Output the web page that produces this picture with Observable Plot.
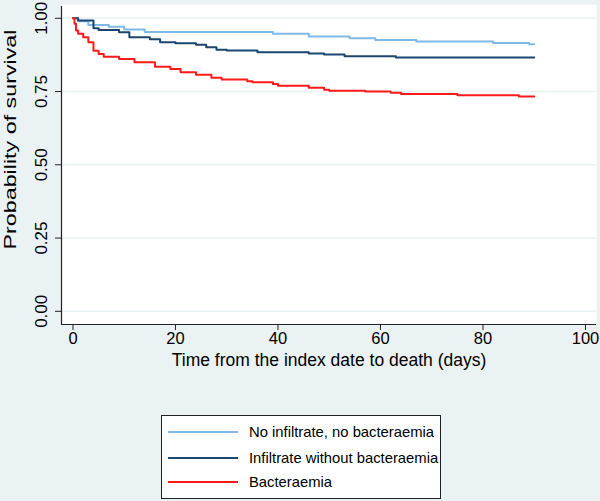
<!DOCTYPE html>
<html><head><meta charset="utf-8">
<script src="https://cdn.jsdelivr.net/npm/d3@7"></script>
<script src="https://cdn.jsdelivr.net/npm/@observablehq/plot@0.6"></script>
<style>
html,body{margin:0;padding:0;background:#eaf2f3;}
#wrap{position:relative;width:600px;height:501px;overflow:hidden;font-family:"Liberation Sans",Arial,sans-serif;}
#chart{position:absolute;left:0;top:0;}
#legend{position:absolute;left:161px;top:415px;width:280px;height:84px;background:#fff;border:1px solid #222;box-sizing:border-box;}
.row{position:absolute;left:6px;height:22px;display:flex;align-items:center;font-size:14.8px;color:#000;white-space:nowrap;}
.sw{width:70px;height:2px;margin-right:11px;}
</style></head><body><div id="wrap"><div id="chart"></div><div id="legend"></div></div>
<script>
const groups = ["No infiltrate, no bacteraemia", "Infiltrate without bacteraemia", "Bacteraemia"];
const colors = ["#7fb9e6", "#1a476f", "#ff1a1a"];

const noInfDays = [0, 1, 3, 7, 10, 14, 39, 46, 54, 59, 67, 82, 89, 90];
const noInfSurv = [1.0, 0.99, 0.977, 0.971, 0.962, 0.953, 0.947, 0.938, 0.932, 0.926, 0.921, 0.916, 0.911, 0.911];

const infDays = [0, 1, 4, 5, 9, 11, 15, 17, 20, 24, 26, 28, 30, 36, 46, 49, 53, 63, 90];
const infSurv = [1.0, 0.992, 0.966, 0.96, 0.952, 0.935, 0.928, 0.918, 0.915, 0.91, 0.901, 0.893, 0.89, 0.884, 0.88, 0.876, 0.87, 0.866, 0.866];

const bactDays = [0, 0.3, 0.6, 1, 2, 3, 4, 5, 6, 9, 12, 16, 19, 21, 24, 27, 29, 34, 35, 39, 40, 46, 49, 50, 57, 62, 64, 75, 87, 90];
const bactSurv = [1.0, 0.981, 0.958, 0.947, 0.935, 0.918, 0.889, 0.878, 0.869, 0.861, 0.85, 0.835, 0.827, 0.816, 0.807, 0.797, 0.791, 0.785, 0.782, 0.776, 0.77, 0.763, 0.756, 0.753, 0.75, 0.746, 0.742, 0.737, 0.733, 0.733];

const xTicks = [0, 20, 40, 60, 80, 100];
const yTicks = [0, 0.25, 0.5, 0.75, 1];
const xTitle = "Time from the index date to death (days)";
const yTitle = "Probability of survival";

const series = [[noInfDays, noInfSurv], [infDays, infSurv], [bactDays, bactSurv]];
const data = [];
series.forEach(([ds, ss], i) => ds.forEach((d, j) => data.push({group: groups[i], day: d, surv: ss[j]})));

const xDom = [-2.24, 102.15];
const yDom = [-0.045, 1.047];
const font = "Liberation Sans, Arial, sans-serif";

const chart = Plot.plot({
  width: 600, height: 395,
  marginLeft: 61, marginRight: 4, marginTop: 4, marginBottom: 71,
  style: {background: "transparent", fontFamily: font, color: "#000"},
  x: {domain: xDom},
  y: {domain: yDom},
  color: {domain: groups, range: colors},
  marks: [
    Plot.frame({fill: "white", stroke: "none"}),
    Plot.gridY(yTicks, {stroke: "#eaf2f3", strokeOpacity: 1, strokeWidth: 1.5}),
    Plot.line(data, {x: "day", y: "surv", z: "group", stroke: "group", curve: "step-after", strokeWidth: 2}),
    Plot.ruleX([xDom[0]], {y1: yDom[0], y2: 1.04, stroke: "#222", strokeWidth: 1.2}),
    Plot.ruleY([yDom[0]], {stroke: "#222", strokeWidth: 1.2}),
    Plot.axisX(xTicks, {tickSize: 6, tickPadding: 2, fontSize: 16.5, label: null, stroke: "#222"}),
    Plot.axisY(yTicks, {tickSize: 6, tickPadding: 9, fontSize: 17, tickRotate: -90, tickFormat: d3.format(".2f"), label: null, stroke: "#222"}),
    Plot.text([xTitle], {frameAnchor: "bottom", dy: 41, fontSize: 17.5, fill: "#000"}),
    Plot.text([yTitle], {frameAnchor: "left", textAnchor: "middle", dx: -51, dy: -25, rotate: -90, fontSize: 17, fill: "#000", className: "ytitle"})
  ]
});
document.getElementById("chart").appendChild(chart);
// stretch the y-axis title along its length, as in the reference
chart.querySelectorAll(".ytitle text").forEach(t => {
  t.setAttribute("textLength", 220);
  t.setAttribute("lengthAdjust", "spacingAndGlyphs");
});

const legend = document.getElementById("legend");
const rowTops = [5, 31, 55];
groups.forEach((g, i) => {
  const row = document.createElement("div");
  row.className = "row";
  row.style.top = rowTops[i] + "px";
  const sw = document.createElement("span");
  sw.className = "sw";
  sw.style.background = colors[i];
  const t = document.createElement("span");
  t.textContent = g;
  row.appendChild(sw); row.appendChild(t);
  legend.appendChild(row);
});
</script></body></html>
